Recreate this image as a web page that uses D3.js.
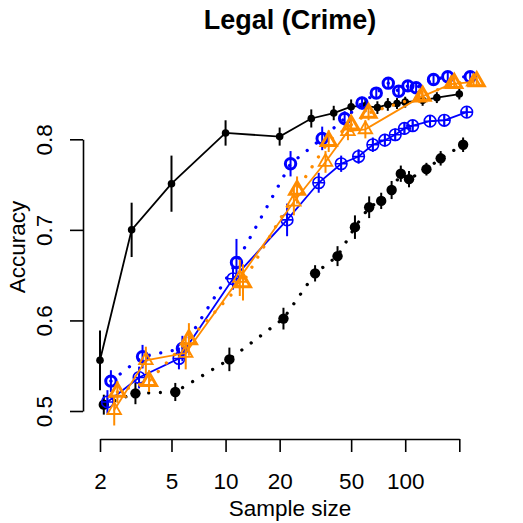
<!DOCTYPE html>
<html>
<head>
<meta charset="utf-8">
<script src="https://cdn.jsdelivr.net/npm/d3@7"></script>
<style>
  body { margin: 0; background: #fff; }
  svg { display: block; font-family: "Liberation Sans", Arial, sans-serif; }
</style>
</head>
<body>
<svg width="523" height="523"></svg>
<script>
// sample sizes per method (orange methods were not run at 60-90 and 125)
const sampleSizes = [2, 3, 5, 10, 20, 30, 40, 50, 60, 70, 80, 90, 100, 125, 150, 200]
const orangeSizes = [2, 3, 5, 10, 20, 30, 40, 50, 100, 150, 200]

const blackSolid    = [0.556, 0.700, 0.751, 0.807, 0.803, 0.823, 0.829, 0.836, 0.837, 0.835, 0.8385, 0.8395, 0.841, 0.843, 0.846, 0.850]
const blackSolidErr = [0.033, 0.030, 0.031, 0.014, 0.010, 0.010, 0.008, 0.008, 0.007, 0.007, 0.007, 0.006, 0.006, 0.006, 0.006, 0.006]
const blackDotted    = [0.507, 0.5195, 0.521, 0.557, 0.602, 0.652, 0.671, 0.703, 0.725, 0.732, 0.744, 0.762, 0.756, 0.767, 0.779, 0.794]
const blackDottedErr = [0.011, 0.012, 0.010, 0.013, 0.012, 0.009, 0.011, 0.013, 0.012, 0.009, 0.010, 0.009, 0.009, 0.007, 0.008, 0.008]
const blueSolid    = [0.510, 0.537, 0.558, 0.646, 0.711, 0.752, 0.773, 0.781, 0.794, 0.799, 0.805, 0.812, 0.815, 0.820, 0.821, 0.830]
const blueSolidErr = [0.013, 0.012, 0.012, 0.012, 0.018, 0.011, 0.009, 0.008, 0.008, 0.007, 0.007, 0.007, 0.006, 0.006, 0.006, 0.005]
const blueDotted    = [0.533, 0.560, 0.569, 0.664, 0.773, 0.801, 0.823, 0.840, 0.851, 0.862, 0.853, 0.859, 0.857, 0.866, 0.869, 0.869]
const blueDottedErr = [0.012, 0.013, 0.014, 0.026, 0.014, 0.013, 0.008, 0.007, 0.006, 0.006, 0.006, 0.006, 0.006, 0.005, 0.005, 0.005]
const orangeSolid    = [0.501, 0.556, 0.564, 0.647, 0.731, 0.775, 0.809, 0.811, 0.846, 0.861, 0.8635]
const orangeSolidErr = [0.017, 0.015, 0.018, 0.020, 0.015, 0.012, 0.010, 0.010, 0.006, 0.005, 0.005]
const orangeDotted    = [0.521, 0.533, 0.579, 0.642, 0.744, 0.798, 0.816, 0.829, 0.848, 0.862, 0.864]
const orangeDottedErr = [0.012, 0.012, 0.018, 0.020, 0.015, 0.012, 0.008, 0.008, 0.006, 0.006, 0.005]

// horizontal jitter factor per method so the bars do not overlap
const jitter = [1, 1.05, 1.1, 1.15, 1.2, 1.25]

const xTicks = [2, 5, 10, 20, 50, 100, 200]
const yTicks = [0.5, 0.6, 0.7, 0.8]

const series = [
    {n: sampleSizes, v: blackSolid, e: blackSolidErr, color: "black", dotted: false, mark: "dot"},
    {n: sampleSizes, v: blackDotted, e: blackDottedErr, color: "black", dotted: true, mark: "bigdot"},
    {n: sampleSizes, v: blueSolid, e: blueSolidErr, color: "#0000ff", dotted: false, mark: "circleplus"},
    {n: sampleSizes, v: blueDotted, e: blueDottedErr, color: "#0000ff", dotted: true, mark: "boldcircle"},
    {n: orangeSizes, v: orangeSolid, e: orangeSolidErr, color: "#ff8c00", dotted: false, mark: "triangle"},
    {n: orangeSizes, v: orangeDotted, e: orangeDottedErr, color: "#ff8c00", dotted: true, mark: "boldtriangle"}
]

const svg = d3.select("svg")
const x = d3.scaleLog().domain([2, 200]).range([100, 459.3])
const y = d3.scaleLinear().domain([0.5, 0.8]).range([411, 139.3])

// axes
const xAxis = svg.append("g")
    .attr("transform", "translate(0,439)")
    .call(d3.axisBottom(x).tickValues(xTicks)
        .tickFormat(d => d === 200 ? "" : d)
        .tickSize(13).tickSizeOuter(0).tickPadding(21))
xAxis.selectAll("text").attr("font-size", 22.5).attr("fill", "black").attr("font-family", "Liberation Sans, Arial, sans-serif")

const yAxis = svg.append("g")
    .attr("transform", "translate(83,0)")
    .call(d3.axisLeft(y).tickValues(yTicks).tickFormat(d3.format(".1f"))
        .tickSize(13).tickSizeOuter(0))
yAxis.selectAll("text")
    .attr("font-size", 22.5).attr("fill", "black").attr("font-family", "Liberation Sans, Arial, sans-serif")
    .attr("x", 0).attr("y", -31).attr("dy", null)
    .attr("text-anchor", "middle")
    .attr("transform", "rotate(-90)")
svg.selectAll(".domain, .tick line").attr("stroke", "black").attr("stroke-width", 1.6)

svg.append("text").attr("x", 290).attr("y", 29).attr("text-anchor", "middle")
    .attr("font-size", 27).attr("font-weight", "bold").text("Legal (Crime)")
svg.append("text").attr("x", 290).attr("y", 516).attr("text-anchor", "middle")
    .attr("font-size", 22.5).text("Sample size")
svg.append("text").attr("transform", "translate(25,247) rotate(-90)").attr("text-anchor", "middle")
    .attr("font-size", 22.5).text("Accuracy")

const line = d3.line().x(d => d.px).y(d => d.py)

series.forEach((s, k) => {
    const pts = s.n.map((n, i) => ({px: x(n * jitter[k]), py: y(s.v[i]), lo: y(s.v[i] - s.e[i]), hi: y(s.v[i] + s.e[i])}))
    const g = svg.append("g")

    g.append("path").datum(pts)
        .attr("d", line)
        .attr("fill", "none")
        .attr("stroke", s.color)
        .attr("stroke-width", s.dotted ? 3.3 : 1.8)
        .attr("stroke-linecap", "round")
        .attr("stroke-dasharray", s.dotted ? "0.01 11.7" : null)

    g.selectAll(".bar").data(pts).join("line")
        .attr("x1", d => d.px).attr("x2", d => d.px)
        .attr("y1", d => d.lo).attr("y2", d => d.hi)
        .attr("stroke", s.color).attr("stroke-width", 2)

    const m = g.selectAll(".mark").data(pts).join("g")
        .attr("transform", d => `translate(${d.px},${d.py})`)
    if (s.mark === "dot" || s.mark === "bigdot") {
        m.append("circle").attr("r", s.mark === "dot" ? 3.8 : 5.2).attr("fill", s.color)
    } else if (s.mark === "circleplus") {
        m.append("circle").attr("r", 5.8).attr("fill", "none").attr("stroke", s.color).attr("stroke-width", 1.6)
        m.append("path").attr("d", "M-5.8,0H5.8M0,-5.8V5.8").attr("stroke", s.color).attr("stroke-width", 1.6)
    } else if (s.mark === "boldcircle") {
        m.append("circle").attr("r", 5.2).attr("fill", "none").attr("stroke", s.color).attr("stroke-width", 3)
    } else {
        const h = s.mark === "triangle" ? 7.8 : 8.6
        const xc = h * 1.347 / 1.555, yc = h * 0.5
        m.append("path")
            .attr("d", `M0,${-h}L${xc},${yc}L${-xc},${yc}Z`)
            .attr("fill", "none").attr("stroke", s.color)
            .attr("stroke-width", s.mark === "triangle" ? 1.8 : 3)
            .attr("stroke-linejoin", "miter")
    }
})
</script>
</body>
</html>
